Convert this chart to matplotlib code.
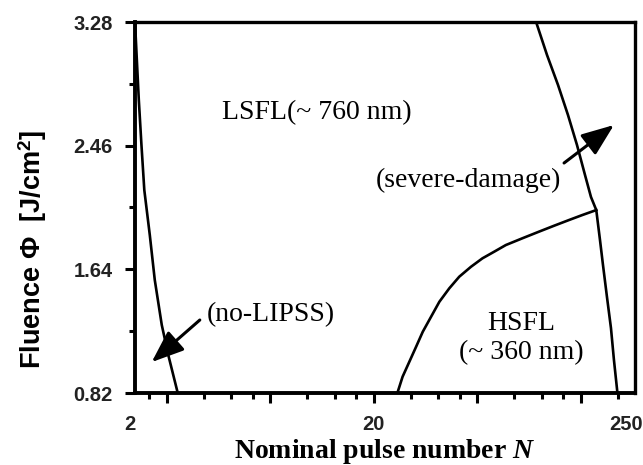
import numpy as np
import matplotlib
matplotlib.use('Agg')
import matplotlib.pyplot as plt
from matplotlib.ticker import NullFormatter
from matplotlib.transforms import ScaledTranslation

# boundary curves (N, fluence)
nolipss_N = [2.0, 2.036, 2.075, 2.126, 2.188, 2.307, 2.421, 2.590, 2.771, 3.022]
nolipss_F = [3.28, 3.028, 2.763, 2.478, 2.166, 1.868, 1.569, 1.271, 1.059, 0.82]

damage_N = [96.2, 106.9, 118.9, 130.9, 142.8, 154.3, 163.4, 172.0,
            178.3, 183.5, 190.7, 198.2, 204.0, 211.0]
damage_F = [3.28, 3.061, 2.862, 2.663, 2.464, 2.265, 2.120, 2.033,
            1.834, 1.669, 1.457, 1.251, 1.039, 0.82]

hsfl_N = [25.2, 26.5, 28.3, 30.2, 32.2, 34.9, 37.8, 41.6, 45.8, 51.3,
          57.3, 64.2, 71.8, 84.3, 99.0, 114.4, 132.2, 150.3, 172.0]
hsfl_F = [0.82, 0.928, 1.028, 1.127, 1.226, 1.326, 1.425, 1.514, 1.591, 1.657,
          1.713, 1.757, 1.801, 1.846, 1.890, 1.929, 1.967, 2.000, 2.033]

yticks = [0.82, 1.64, 2.46, 3.28]
xtick_vals = [2, np.e, np.e**2, np.e**3, np.e**4, np.e**5, 250]
xtick_labels = ['2', '', '', '20', '', '', '250']

plt.rcParams['mathtext.fontset'] = 'custom'
plt.rcParams['mathtext.rm'] = 'Liberation Sans:bold'
plt.rcParams['mathtext.it'] = 'Liberation Serif:italic:bold'

fig = plt.figure(figsize=(6.43, 4.65), dpi=100)
ax = fig.add_axes([135 / 643, 72 / 465, 500 / 643, 371 / 465])

lw = 1.9
ax.plot(nolipss_N, nolipss_F, color='k', lw=lw)
ax.plot(damage_N, damage_F, color='k', lw=lw)
ax.plot(hsfl_N, hsfl_F, color='k', lw=lw)

ax.set_xscale('log')
ax.set_xlim(2, 250)
ax.set_ylim(0.82, 3.28)

# y ticks
ax.set_yticks(yticks)
ax.set_yticklabels([f'{v:.2f}' for v in yticks])
ax.set_yticks([(a + b) / 2 for a, b in zip(yticks[:-1], yticks[1:])], minor=True)

# x ticks: majors at e^k, 3 linear minor ticks in between
ax.set_xticks(xtick_vals)
ax.set_xticklabels(xtick_labels)
minors = []
for k in range(0, 6):
    lo, hi = np.e**k, np.e**(k + 1)
    for j in (1, 2, 3):
        v = lo + j * (hi - lo) / 4
        if 2 < v < 250:
            minors.append(v)
ax.set_xticks(minors, minor=True)
ax.xaxis.set_minor_formatter(NullFormatter())
ticks = ax.xaxis.get_major_ticks()
ticks[0].tick1line.set_visible(False)
ticks[-1].tick1line.set_visible(False)

ax.tick_params(which='major', direction='out', length=7, width=2.2, pad=9,
               labelsize=14.5)
ax.tick_params(which='minor', direction='out', length=4, width=2.2)
for lab in ax.get_xticklabels() + ax.get_yticklabels():
    lab.set_fontfamily('Liberation Sans')
    lab.set_fontweight('bold')
    lab.set_color('#222222')
xl = ax.get_xticklabels()
xl[0].set_transform(xl[0].get_transform() + ScaledTranslation(-5 / 100, 0, fig.dpi_scale_trans))
xl[-1].set_transform(xl[-1].get_transform() + ScaledTranslation(-9 / 100, 0, fig.dpi_scale_trans))

for side in ['left', 'bottom']:
    ax.spines[side].set_linewidth(2.8)
for side in ['top', 'right']:
    ax.spines[side].set_linewidth(2.4)

ax.set_xlabel(r'Nominal pulse number $\mathit{N}$', fontfamily='Liberation Serif',
              fontweight='bold', fontsize=20, labelpad=2)
ax.set_ylabel(r'Fluence Φ  [J/cm$^2$]', fontfamily='Liberation Sans',
              fontweight='bold', fontsize=19.5)
ax.yaxis.set_label_coords(-0.172, 0.388)

serif = dict(fontfamily='Liberation Serif', fontsize=20, ha='center', va='center')
ax.text(11.54, 2.677, 'LSFL(~ 760 nm)', **serif)
ax.text(50.0, 2.232, '(severe-damage)', **serif)
ax.text(7.41, 1.337, '(no-LIPSS)', **serif)
ax.text(83.3, 1.284, 'HSFL', **serif)
ax.text(83.3, 1.085, '(~ 360 nm)', **serif)

arrow = dict(arrowstyle='-|>,head_length=0.9,head_width=0.35', lw=2.2, color='k',
             mutation_scale=22, shrinkA=0, shrinkB=0)
ax.annotate('', xy=(2.35, 1.025), xytext=(3.74, 1.304), arrowprops=arrow)
ax.annotate('', xy=(204, 2.597), xytext=(126, 2.345), arrowprops=arrow)

fig.savefig('out.png', dpi=100)
